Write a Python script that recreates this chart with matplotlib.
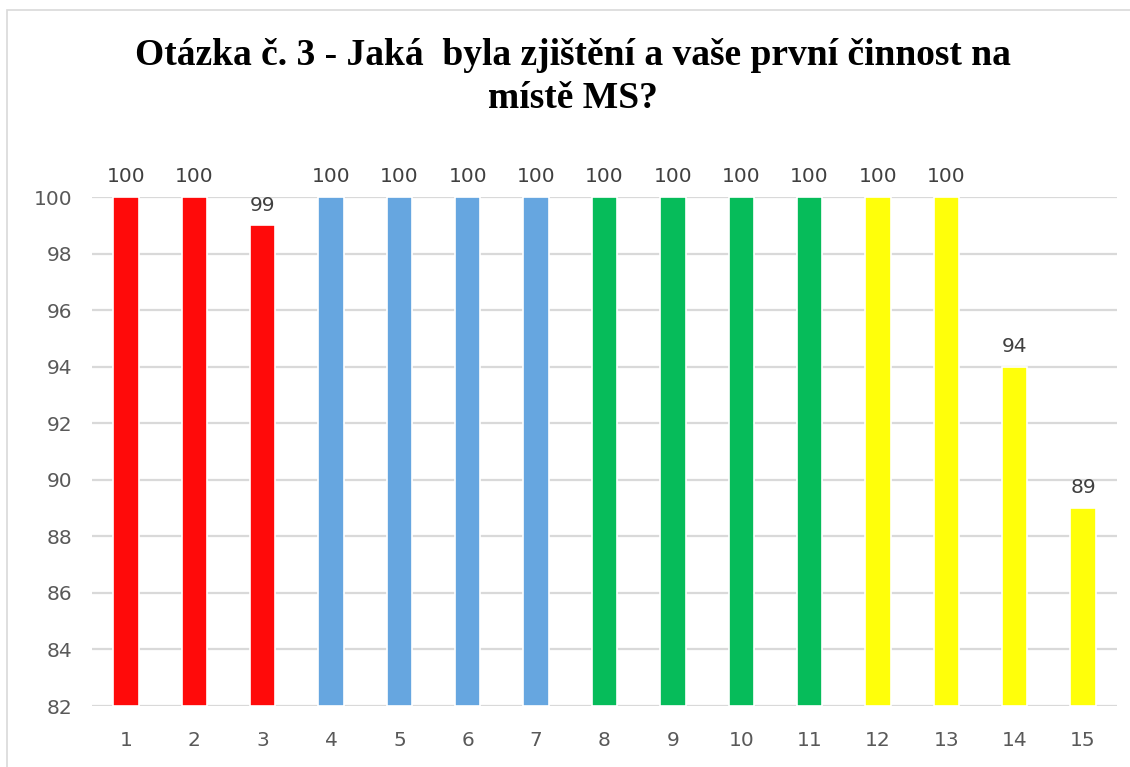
import matplotlib
matplotlib.use("Agg")
import matplotlib.pyplot as plt
from matplotlib.patches import Rectangle

categories = [str(i) for i in range(1, 16)]
values = [100, 100, 99, 100, 100, 100, 100, 100, 100, 100, 100, 100, 100, 94, 89]
colors = ["#FF0A0A"] * 3 + ["#66A6E0"] * 4 + ["#06BC5A"] * 4 + ["#FFFF0A"] * 4
yticks = [82, 84, 86, 88, 90, 92, 94, 96, 98, 100]
title_lines = ["Otázka č. 3 - Jaká  byla zjištění a vaše první činnost na", "místě MS?"]

W, H = 1130, 767
fig = plt.figure(figsize=(W / 100, H / 100), dpi=100)
fig.patches.append(Rectangle((7/W, -0.1), 1.2, 1 - 10/H + 0.1, transform=fig.transFigure,
                             fill=False, edgecolor="#D9D9D9", linewidth=1.2))
ax = fig.add_axes([91.8/W, 61/H, 1025.4/W, 509/H])
x = list(range(len(categories)))
ax.bar(x, [v - 82 for v in values], bottom=82, width=0.37, color=colors,
       edgecolor="white", linewidth=1.2, zorder=3)
ax.set_ylim(82, 100)
ax.set_xlim(-0.5, len(categories) - 0.5)
ax.set_yticks(yticks)
ax.set_xticks(x)
ax.set_xticklabels(categories)
ax.grid(axis="y", color="#D9D9D9", linewidth=1.6, zorder=0)
ax.set_axisbelow(True)
for s in ax.spines.values():
    s.set_visible(False)
ax.tick_params(axis="both", length=0, colors="#595959", labelsize=14.5)
ax.tick_params(axis="x", pad=18)
ax.tick_params(axis="y", pad=14)
for xi, v in zip(x, values):
    ax.text(xi, v + 0.38, str(v), ha="center", va="bottom", fontsize=14.5,
            color="#404040", clip_on=False)
for line, yb in zip(title_lines, [65, 108]):
    fig.text(573/W, 1 - yb/H, line, ha="center", va="baseline", fontsize=27,
             fontweight="bold", family="Liberation Serif")
fig.savefig("out.png", dpi=100)
